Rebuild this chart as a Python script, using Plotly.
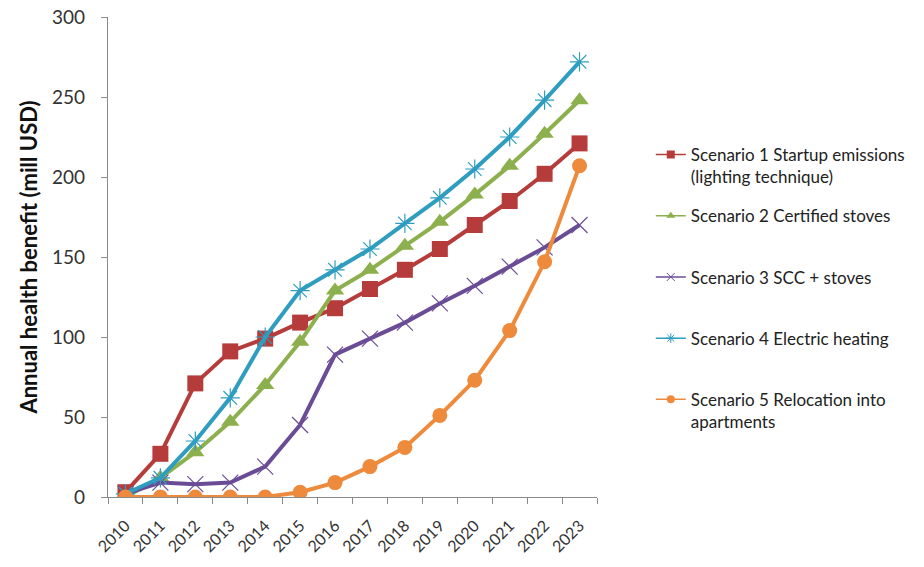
import plotly.graph_objects as go

years = [str(y) for y in range(2010, 2024)]

scenario1 = [3, 27, 71, 91, 99, 109, 118, 130, 142, 155, 170, 185, 202, 221]
scenario2 = [0, 12, 28, 47, 70, 97, 129, 142, 157, 172, 189, 207, 227, 248]
scenario3 = [2, 9, 8, 9, 19, 45, 89, 99, 109, 121, 132, 144, 156, 170]
scenario4 = [2, 12, 35, 62, 100, 129, 142, 155, 171, 187, 205, 225, 248, 272]
scenario5 = [0, 0, 0, 0, 0, 3, 9, 19, 31, 51, 73, 104, 147, 207]

names = [
    "Scenario 1 Startup emissions<br>(lighting technique)",
    "Scenario 2 Certified stoves<br> ",
    "Scenario 3 SCC + stoves<br> ",
    "Scenario 4 Electric heating<br> ",
    "Scenario 5 Relocation into<br>apartments",
]
colors = ["#B53C3A", "#8DB04E", "#6A4C96", "#2E9DC0", "#EE8A3C"]
symbols = ["square", "triangle-up", "x-thin", "asterisk", "circle"]
sizes = [16, 16, 16, 16, 15]
series = [scenario1, scenario2, scenario3, scenario4, scenario5]

fig = go.Figure()
for i, (vals, name, col, sym, sz) in enumerate(zip(series, names, colors, symbols, sizes)):
    thin = sym in ("x-thin", "asterisk")
    fig.add_trace(go.Scatter(
        x=years, y=vals, mode="lines+markers", name=name,
        legendgroup=f"s{i}", showlegend=False,
        line=dict(color=col, width=4),
        marker=dict(symbol=sym, size=sz, color=col,
                    line=dict(color=col, width=1.2 if thin else 0)),
    ))
    # compact legend entry for the same series
    fig.add_trace(go.Scatter(
        x=[None], y=[None], mode="lines+markers", name=name,
        legendgroup=f"s{i}", showlegend=True,
        line=dict(color=col, width=1.5),
        marker=dict(symbol=sym, size=8, color=col,
                    line=dict(color=col, width=1 if thin else 0)),
    ))

axis_col = "#8A8A8A"
fig.update_layout(
    width=924, height=567,
    margin=dict(l=108, r=327, t=17, b=70),
    paper_bgcolor="white", plot_bgcolor="white",
    font=dict(family="Lato, sans-serif", size=15, color="#333333"),
    showlegend=True,
    legend=dict(
        x=1.11, xanchor="left", y=0.75, yanchor="top",
        font=dict(size=17, color="#222222"),
        tracegroupgap=14, valign="top",
        bgcolor="rgba(0,0,0,0)",
    ),
    xaxis=dict(
        type="category", tickson="boundaries",
        range=[-0.5, 13.5], automargin=False,
        showline=True, linecolor=axis_col, linewidth=1.3,
        ticks="outside", ticklen=6, tickcolor=axis_col,
        tickangle=-45, showgrid=False, zeroline=False,
        ticklabelstandoff=12,
        tickfont=dict(size=16, color="#333333"),
    ),
    yaxis=dict(
        range=[0, 300], tickvals=[0, 50, 100, 150, 200, 250, 300],
        automargin=False,
        showline=True, linecolor=axis_col, linewidth=1.3,
        ticks="outside", ticklen=6, tickcolor=axis_col,
        showgrid=False, zeroline=False,
        ticklabelstandoff=12,
        tickfont=dict(size=19, color="#333333"),
        title=dict(text="<b>Annual health benefit (mill USD)</b>",
                   font=dict(size=22, color="#111111"), standoff=8),
    ),
)

fig.write_html("out.html")
